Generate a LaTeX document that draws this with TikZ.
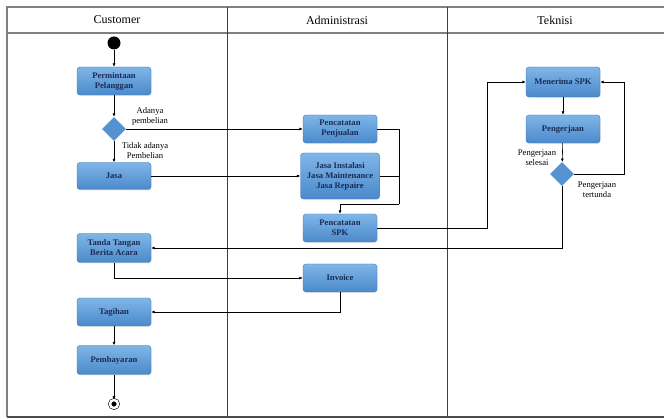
\documentclass[tikz,border=0pt]{standalone}
\usepackage{fontspec}
\setmainfont{Liberation Serif}
\usepackage{tikz}
\usetikzlibrary{arrows.meta,positioning,shapes.geometric,shadows}
\definecolor{actlight}{HTML}{80B6E8}
\definecolor{actdark}{HTML}{4A89CB}
\definecolor{actedge}{HTML}{3E78B5}
\definecolor{acttext}{HTML}{1A2C55}
\definecolor{lanegray}{HTML}{808080}
\tikzset{
  act/.style={draw=actedge, rounded corners=3pt, top color=actlight, bottom color=actdark, minimum width=74pt, minimum height=28pt, align=center, inner sep=2pt, font=\fontsize{8.6}{10}\selectfont\bfseries, text=acttext, drop shadow={opacity=0.2, shadow xshift=0.6pt, shadow yshift=-0.8pt}},
  choice/.style={diamond, fill=actdark!80!actlight, minimum width=24pt, minimum height=24pt, inner sep=0pt},
  startnode/.style={circle, fill=black, minimum size=13pt, inner sep=0pt},
  endnode/.style={circle, draw=black, fill=black, minimum size=8pt, inner sep=0pt, double=white, double distance=2.4pt, line width=0.6pt},
  lbl/.style={font=\fontsize{8.6}{10}\selectfont, align=center},
  lanetitle/.style={font=\fontsize{12}{14}\selectfont},
  line/.style={-{Latex[length=3.5pt,width=3pt]}, semithick, draw=black},
  lane/.style={draw=lanegray, line width=1.3pt},
  divider/.style={draw=black!75, thin}
}
\begin{document}
\begin{tikzpicture}[x=1pt, y=-1pt]
  \useasboundingbox (0,0) rectangle (664,419);
  % swimlanes
  \draw[lane] (7,417) -- (7,7) -- (664,7);
  \draw[lane] (7,33) -- (664,33);
  \draw[lane, draw=black!70] (7,417) -- (664,417);
  \draw[divider] (227,7) -- (227,417);
  \draw[divider] (447,7) -- (447,417);
  \node[lanetitle] (hcust) at (117,20) {Customer};
  \node[lanetitle] (hadm) at (337,20) {Administrasi};
  \node[lanetitle] (htek) at (555,20) {Teknisi};

  % customer
  \node[startnode] (start) at (114,43) {};
  \node[act] (minta) at (114,81) {Permintaan\\Pelanggan};
  \node[choice] (beli) at (114,129) {};
  \node[act, minimum height=27pt] (jasa) at (114,176) {Jasa};
  \node[act, minimum height=29pt] (tanda) at (114,248) {Tanda Tangan\\Berita Acara};
  \node[act] (tagihan) at (114,312) {Tagihan};
  \node[act, minimum height=29pt] (bayar) at (114,360) {Pembayaran};
  \node[endnode] (akhir) at (114,404) {};
  \node[lbl] (ya) at (150,116) {Adanya\\pembelian};
  \node[lbl] (tidak) at (145,151) {Tidak adanya\\Pembelian};

  % administrasi
  \node[act] (jual) at (340,129) {Pencatatan\\Penjualan};
  \node[act, minimum width=79pt, minimum height=46pt] (layan) at (340,176) {Jasa Instalasi\\Jasa Maintenance\\Jasa Repaire};
  \node[act] (spk) at (340,228) {Pencatatan\\SPK};
  \node[act] (invoice) at (340,278) {Invoice};
  \coordinate (gabung) at (399,204);

  % teknisi
  \node[act, minimum height=30pt] (terima) at (563,82) {Menerima SPK};
  \node[act] (kerja) at (563,129) {Pengerjaan};
  \node[choice] (selesai) at (562,174) {};
  \coordinate (belok) at (487,82);
  \node[lbl] (ok) at (537,158) {Pengerjaan\\selesai};
  \node[lbl] (tunda) at (597,190) {Pengerjaan\\tertunda};

  \draw[line] (start) -- (minta);
  \draw[line] (minta) -- (beli);
  \draw[line] (beli) -- (jasa);
  \draw[line] (beli) -- (jual);
  \draw[line] (jasa) -- (layan);
  \draw[semithick] (jual.east) -| (gabung);
  \draw[semithick] (layan.east) -- (layan.east -| gabung);
  \draw[line] (gabung) -| (spk.north);
  \draw[line] (spk.east) -| (belok) -- (terima.west);
  \draw[line] (terima) -- (kerja);
  \draw[line] (kerja) -- (selesai);
  \draw[line] (selesai.east) -- ++(50,0) |- (terima.east);
  \draw[line] (selesai.south) |- (tanda.east);
  \draw[line] (tanda.south) |- (invoice.west);
  \draw[line] (invoice.south) |- (tagihan.east);
  \draw[line] (tagihan) -- (bayar);
  \draw[line] (bayar) -- (akhir);
\end{tikzpicture}
\end{document}
